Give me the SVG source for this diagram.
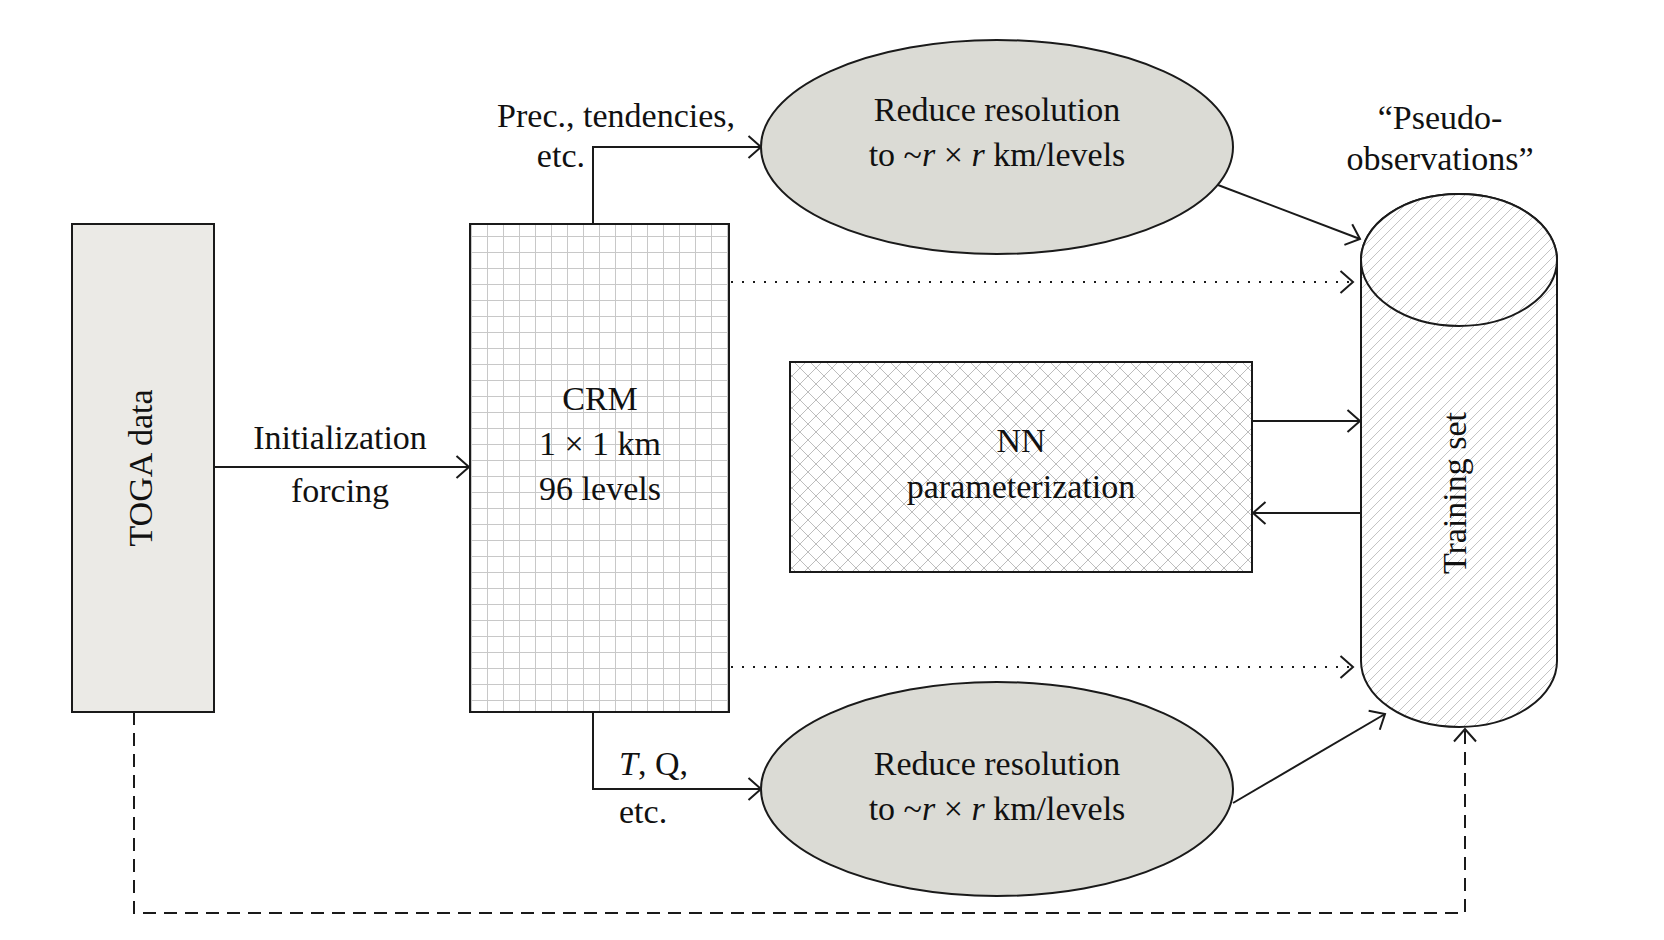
<svg xmlns="http://www.w3.org/2000/svg" width="1664" height="940" viewBox="0 0 1664 940">
<style>
text{font-family:"Liberation Serif","Times New Roman",serif;font-size:34px;fill:#111}
.c{text-anchor:middle}
.e{text-anchor:end}
.box{stroke:#1a1a1a;stroke-width:2}
.ln{fill:none;stroke:#1a1a1a;stroke-width:2}
.dot{stroke-dasharray:2 9}
.dash{stroke-dasharray:13 8}
</style>
<defs>
<pattern id="grid" patternUnits="userSpaceOnUse" x="7" y="12" width="16" height="16">
<rect width="16" height="16" fill="#fff"/>
<path d="M0.5,0V16M0,0.5H16" stroke="#c8c8c8" stroke-width="1" fill="none"/>
</pattern>
<pattern id="cross" patternUnits="userSpaceOnUse" x="0" y="0" width="16" height="16">
<rect width="16" height="16" fill="#fff"/>
<path d="M0,0L16,16M0,16L16,0" stroke="#bdbdbd" stroke-width="1" fill="none"/>
</pattern>
<pattern id="hatch" patternUnits="userSpaceOnUse" x="0" y="0" width="10" height="10">
<rect width="10" height="10" fill="#fff"/>
<path d="M-1,11L11,-1" stroke="#c4c4c4" stroke-width="1" fill="none"/>
</pattern>
<marker id="ar" viewBox="-15 -13 17 26" refX="0" refY="0" markerWidth="17" markerHeight="26" markerUnits="userSpaceOnUse" orient="auto">
<path d="M-12.5,-11L0,0L-12.5,11" fill="none" stroke="#1a1a1a" stroke-width="2"/>
</marker>
</defs>
<rect width="1664" height="940" fill="#fff"/>

<g id="connectors">
<path class="ln" d="M214,467H469" marker-end="url(#ar)"/>
<path class="ln" d="M593,224V147H761" marker-end="url(#ar)"/>
<path class="ln" d="M593,712V789H761" marker-end="url(#ar)"/>
<path class="ln" d="M1218,185L1360,239" marker-end="url(#ar)"/>
<path class="ln" d="M1233,803L1385,714" marker-end="url(#ar)"/>
<path class="ln dot" d="M731,282H1353" marker-end="url(#ar)"/>
<path class="ln dot" d="M731,667H1353" marker-end="url(#ar)"/>
<path class="ln" d="M1252,421H1360" marker-end="url(#ar)"/>
<path class="ln" d="M1361,513H1253" marker-end="url(#ar)"/>
<path class="ln dash" d="M134,712V913H1465V729" marker-end="url(#ar)"/>
</g>

<g id="toga">
<rect class="box" x="72" y="224" width="142" height="488" fill="#ebeae6"/>
<text class="c" transform="translate(152,468) rotate(-90)">TOGA data</text>
</g>

<g id="init-label">
<text class="c" x="340" y="449">Initialization</text>
<text class="c" x="340" y="502">forcing</text>
</g>

<g id="crm">
<rect class="box" x="470" y="224" width="259" height="488" fill="url(#grid)"/>
<text class="c" x="600" y="410">CRM</text>
<text class="c" x="600" y="455">1 × 1 km</text>
<text class="c" x="600" y="500">96 levels</text>
</g>

<g id="top-label">
<text class="e" x="735" y="127">Prec., tendencies,</text>
<text class="e" x="585" y="167">etc.</text>
</g>

<g id="bottom-label">
<text x="619" y="775"><tspan font-style="italic">T</tspan>, Q,</text>
<text x="619" y="823">etc.</text>
</g>

<g id="reduce-top">
<ellipse class="box" cx="997" cy="147" rx="236" ry="107" fill="#dbdbd5"/>
<text class="c" x="997" y="121">Reduce resolution</text>
<text class="c" x="997" y="166">to ~<tspan font-style="italic">r</tspan> × <tspan font-style="italic">r</tspan> km/levels</text>
</g>

<g id="reduce-bottom">
<ellipse class="box" cx="997" cy="789" rx="236" ry="107" fill="#dbdbd5"/>
<text class="c" x="997" y="775">Reduce resolution</text>
<text class="c" x="997" y="820">to ~<tspan font-style="italic">r</tspan> × <tspan font-style="italic">r</tspan> km/levels</text>
</g>

<g id="nn">
<rect class="box" x="790" y="362" width="462" height="210" fill="url(#cross)"/>
<text class="c" x="1021" y="452">NN</text>
<text class="c" x="1021" y="498">parameterization</text>
</g>

<g id="training-set">
<path class="box" d="M1361,260A98,66 0 0 1 1557,260V661A98,66 0 0 1 1361,661Z" fill="url(#hatch)"/>
<ellipse class="box" cx="1459" cy="260" rx="98" ry="66" fill="url(#hatch)"/>
<text class="c" transform="translate(1466,493) rotate(-90)">Training set</text>
</g>

<g id="pseudo-label">
<text class="c" x="1440" y="129">“Pseudo-</text>
<text class="c" x="1440" y="170">observations”</text>
</g>
</svg>
